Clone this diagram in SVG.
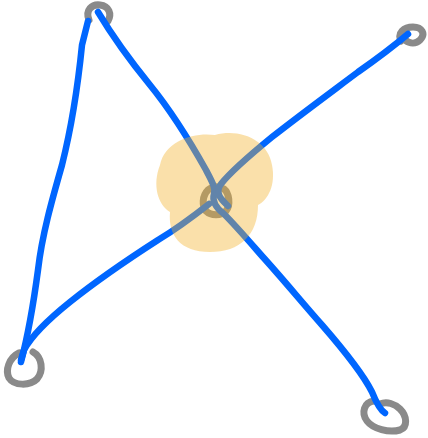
<svg xmlns="http://www.w3.org/2000/svg" width="428" height="438" viewBox="0 0 428 438">
<style>
.loop{fill:none;stroke:#8a8a8a;stroke-width:7;stroke-linecap:round;stroke-linejoin:round}
.wire{fill:none;stroke:#0066ff;stroke-width:6.5;stroke-linecap:round;stroke-linejoin:round}
</style>
<rect width="428" height="438" fill="#ffffff"/>
<g id="node-top"><path class="loop" d="M89,20 C85,10 92,4 100,5 C109,6 112,14 108,21"/></g>
<g id="node-topright"><path class="loop" d="M401,41 C397,33 404,27 413,27 C422,27 426,34 420,40 C416,44 410,44 405,40" stroke-width="8"/></g>
<g id="node-bottomleft"><path class="loop" d="M19,353 C9,358 5,370 9,378 C14,386 30,386 37,379 C44,371 42,357 33,352"/></g>
<g id="node-bottomright"><path class="loop" d="M374,401 C364,402 361,413 367,421 C373,429 389,433 400,430 C408,427 407,416 400,409 C395,404 387,401 380,404"/></g>
<g id="node-center-loop"><path class="loop" d="M208,190 C202,196 202,206 206,211 C211,216 221,216 226,211 C231,205 229,193 224,189 C219,186 213,186 208,190 Z" stroke-width="13"/></g>
<g id="connectors">
<path class="wire" d="M21,362 C28,335 34,300 38,270 C42,235 52,200 62,165 C72,125 78,85 82,45 L88,21"/>
<path class="wire" d="M98,12 C110,32 128,58 150,85 C172,112 192,145 206,170 C212,182 216,188 214,194 C212,201 216,208 224,214 C236,226 248,240 262,256 C282,278 300,300 322,325 C342,348 362,372 372,392 C376,402 380,410 385,413"/>
<path class="wire" d="M408,34 C395,45 378,58 358,72 C330,93 300,115 272,137 C250,155 232,170 221,184 C214,193 222,200 228,206"/>
<path class="wire" d="M209,204 C195,215 178,228 158,240 C130,258 100,278 70,302 C50,318 32,335 24,350 L21,360"/>
</g>
<g id="node-center"><path d="M160,165 C165,140 195,132 215,135 C240,128 268,140 272,165 C276,185 268,200 258,205 C258,235 240,252 210,252 C180,252 168,235 170,212 C158,205 152,185 160,165 Z" fill="#f2b22a" opacity="0.4"/></g>
</svg>
